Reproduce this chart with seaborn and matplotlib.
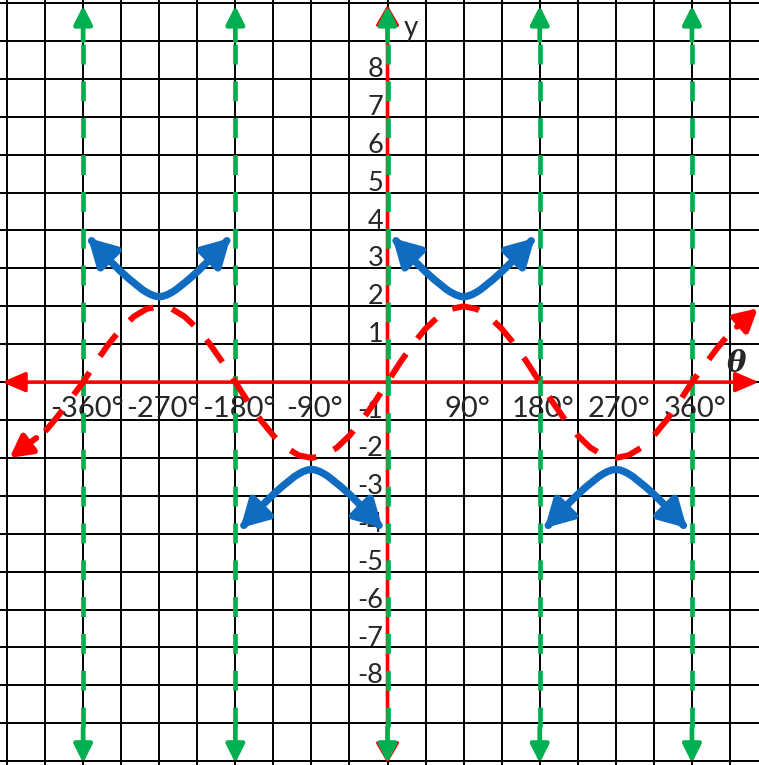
import matplotlib
matplotlib.use("Agg")
import pandas as pd
import matplotlib.pyplot as plt
import seaborn as sns

# red dashed curve (degrees, y)
red_theta = list(range(-405, 406, 15))
red_y = [-1.3, -0.9, -0.45, 0, 0.52, 1.0, 1.41, 1.73, 1.93, 2.0, 1.93, 1.73, 1.41, 1.0, 0.52,
         0, -0.52, -1.0, -1.41, -1.73, -1.93, -2.0, -1.93, -1.73, -1.41, -1.0, -0.52,
         0, 0.52, 1.0, 1.41, 1.73, 1.93, 2.0, 1.93, 1.73, 1.41, 1.0, 0.52,
         0, -0.52, -1.0, -1.41, -1.73, -1.93, -2.0, -1.93, -1.73, -1.41, -1.0, -0.52,
         0, 0.45, 0.9, 1.3]
red_tail_start = [(-405, -1.3), (405, 1.3)]
red_tail_tip = [(-447, -2.0), (438, 1.95)]

# blue branches (offset from branch centre in degrees, 5 degree steps)
blue_offsets = list(range(-80, 81, 5))
blue_up_y = [3.73, 3.61, 3.49, 3.37, 3.25, 3.13, 3.02, 2.91, 2.81, 2.71, 2.62, 2.53, 2.44,
             2.37, 2.31, 2.27, 2.25, 2.27, 2.31, 2.37, 2.44, 2.53, 2.62, 2.71, 2.81,
             2.91, 3.02, 3.13, 3.25, 3.37, 3.49, 3.61, 3.73]
blue_down_y = [-3.78, -3.66, -3.54, -3.42, -3.30, -3.18, -3.07, -2.96, -2.86, -2.76, -2.67,
               -2.58, -2.49, -2.42, -2.36, -2.32, -2.30, -2.32, -2.36, -2.42, -2.49, -2.58,
               -2.67, -2.76, -2.86, -2.96, -3.07, -3.18, -3.30, -3.42, -3.54, -3.66, -3.78]
blue_up_centres = [-270, 90]
blue_down_centres = [-90, 270]
blue_up_tip = 3.8
blue_down_tip = -3.85

# asymptotes
asymptotes = [-360, -180, 0, 180, 360]

x_ticks = [-360, -270, -180, -90, 90, 180, 270, 360]
y_ticks = [8, 7, 6, 5, 4, 3, 2, 1, -1, -2, -3, -4, -5, -6, -7, -8]

RED = "#ff0000"
GREEN = "#00b050"
BLUE = "#0f6cc0"

sns.set_style("white")
plt.rcParams['font.family'] = ['Lato', 'DejaVu Sans']

fig = plt.figure(figsize=(7.59, 7.65), dpi=100)
ax = fig.add_axes([0, 0, 1, 1])

# grid
ax.set_xticks(range(-450, 451, 45))
ax.set_yticks(range(-10, 11))
ax.grid(True, color='black', lw=1.4, zorder=0)
ax.set_axisbelow(True)
ax.tick_params(length=0, labelbottom=False, labelleft=False)
for s in ax.spines.values():
    s.set_visible(False)

# labels
for d in x_ticks:
    ax.text(d + 4, -0.71, f"{d}°", ha='center', va='center', fontsize=21, zorder=2)
for v in y_ticks:
    ax.text(-5, v + 0.25, str(v), ha='right', va='center', fontsize=19.5, zorder=2)
ax.text(28, 9.34, "y", ha='center', va='center', fontsize=20, zorder=2)
ax.text(413, 0.5, "θ", ha='center', va='center', fontsize=21, family='DejaVu Serif',
        style='italic', weight='bold', zorder=2)

# axes (red, arrows both ends)
ax.annotate('', xy=(439, 0), xytext=(-456, 0),
            arrowprops=dict(arrowstyle='<|-|>,head_length=1.4,head_width=0.6', color=RED,
                            lw=2.6, mutation_scale=10, shrinkA=0, shrinkB=0), zorder=3)
ax.annotate('', xy=(0, 9.95), xytext=(0, -10.05),
            arrowprops=dict(arrowstyle='<|-|>,head_length=1.2,head_width=0.7', color=RED,
                            lw=2.6, mutation_scale=10, shrinkA=0, shrinkB=0), zorder=3)

# green dashed asymptotes
gdf = pd.DataFrame({
    'theta': [a for a in asymptotes for _ in range(2)],
    'y': [-9.1, 9.0] * len(asymptotes),
    'line': [a for a in asymptotes for _ in range(2)],
})
sns.lineplot(data=gdf, x='theta', y='y', units='line', estimator=None, sort=False,
             color=GREEN, lw=3.4, linestyle=(0, (4.2, 3.6)), ax=ax, zorder=4)
for a in asymptotes:
    for y0, y1 in [(9.0, 9.93), (-9.1, -10.05)]:
        ax.annotate('', xy=(a, y1), xytext=(a, y0),
                    arrowprops=dict(arrowstyle='-|>,head_length=1.1,head_width=0.55', color=GREEN,
                                    lw=3.4, mutation_scale=10, shrinkA=0, shrinkB=0), zorder=4)

# red dashed curve
sns.lineplot(x=red_theta, y=red_y, estimator=None, sort=False, color=RED, lw=4.3,
             linestyle=(0, (4.6, 3.2)), ax=ax, zorder=5)
for (x0, y0), (x1, y1) in zip(red_tail_start, red_tail_tip):
    ax.annotate('', xy=(x1, y1), xytext=(x0 + (x1 - x0) * 0.25, y0 + (y1 - y0) * 0.25),
                arrowprops=dict(arrowstyle='-|>,head_length=1.3,head_width=0.7', color=RED,
                                lw=4.3, mutation_scale=10, shrinkA=0, shrinkB=0), zorder=5)

# blue branches
rows = []
for c in blue_up_centres:
    for o, y in zip(blue_offsets, blue_up_y):
        rows.append({'theta': c + o, 'y': y, 'branch': f"u{c}"})
for c in blue_down_centres:
    for o, y in zip(blue_offsets, blue_down_y):
        rows.append({'theta': c + o, 'y': y, 'branch': f"d{c}"})
bdf = pd.DataFrame(rows)
sns.lineplot(data=bdf, x='theta', y='y', units='branch', estimator=None, sort=False,
             color=BLUE, lw=5.3, ax=ax, zorder=6, solid_capstyle='round')
for centres, ys, tip in [(blue_up_centres, blue_up_y, blue_up_tip),
                         (blue_down_centres, blue_down_y, blue_down_tip)]:
    for c in centres:
        for side, idx in ((-1, 2), (1, -3)):
            ax.annotate('', xy=(c + side * 84, tip), xytext=(c + side * 70, ys[idx]),
                        arrowprops=dict(arrowstyle='-|>,head_length=1.6,head_width=0.9',
                                        color=BLUE, lw=5.3, mutation_scale=10,
                                        shrinkA=0, shrinkB=0), zorder=6)

ax.set_xlim(-458.3, 439.3)
ax.set_ylim(-10.1, 10.08)
ax.set_xlabel('')
ax.set_ylabel('')
if ax.get_legend():
    ax.get_legend().remove()

fig.savefig("out.png", dpi=100)
